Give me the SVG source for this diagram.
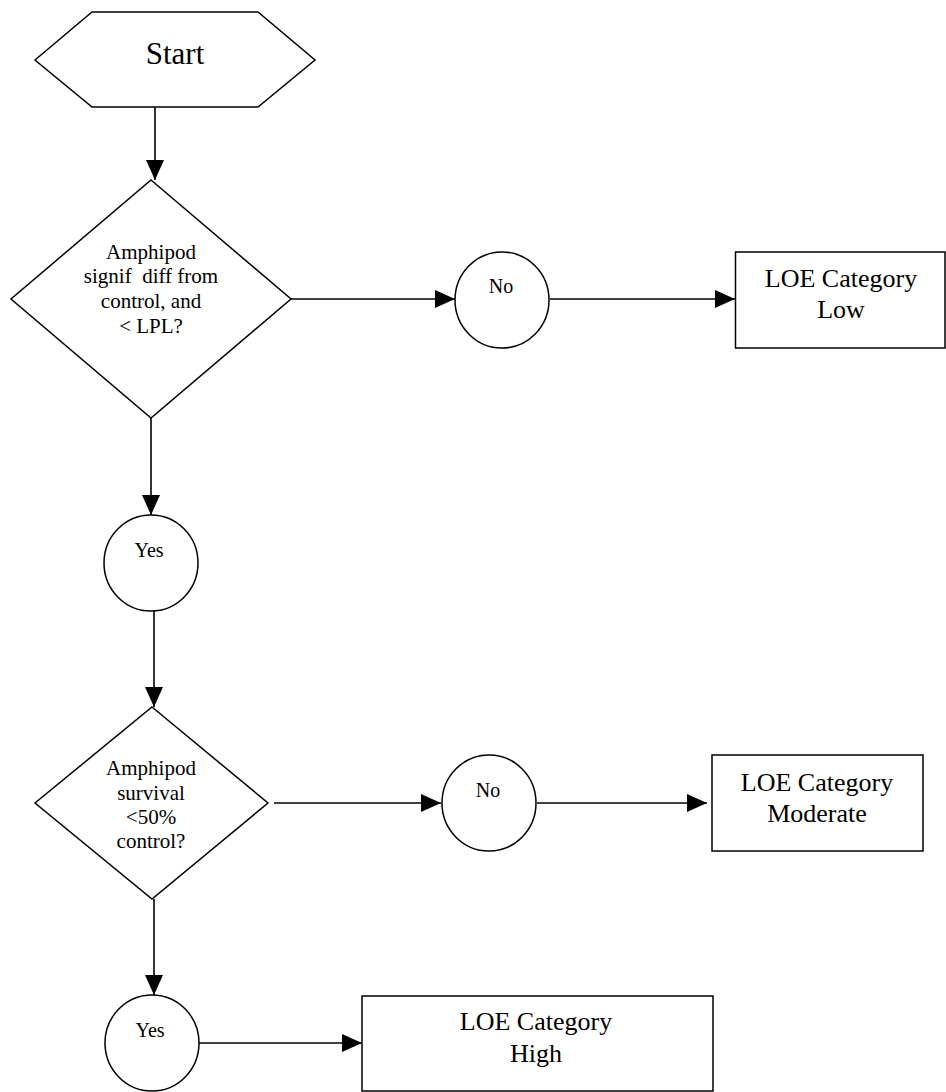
<svg xmlns="http://www.w3.org/2000/svg" width="946" height="1092" viewBox="0 0 946 1092">
<style>
.s{fill:#fff;stroke:#000;stroke-width:1.5}
.c{fill:none;stroke:#000;stroke-width:1.6}
text{font-family:"Liberation Serif","Times New Roman",serif;fill:#000;text-anchor:middle}
.d{font-size:21px}
.b{font-size:26px}
.o{font-size:20px}
</style>
<defs>
<marker id="ah" markerUnits="userSpaceOnUse" markerWidth="22" markerHeight="20" refX="20" refY="9" orient="auto">
<path d="M0,0 L20,9 L0,18 Z" fill="#000"/>
</marker>
</defs>
<rect width="946" height="1092" fill="#fff"/>
<g id="connectors">
<line class="c" x1="155" y1="107" x2="155" y2="180" marker-end="url(#ah)"/>
<line class="c" x1="291" y1="299" x2="455" y2="299" marker-end="url(#ah)"/>
<line class="c" x1="550" y1="299" x2="735" y2="299" marker-end="url(#ah)"/>
<line class="c" x1="151" y1="418" x2="151" y2="515" marker-end="url(#ah)"/>
<line class="c" x1="154" y1="611" x2="154" y2="707" marker-end="url(#ah)"/>
<line class="c" x1="274" y1="803" x2="441" y2="803" marker-end="url(#ah)"/>
<line class="c" x1="537" y1="803" x2="707" y2="803" marker-end="url(#ah)"/>
<line class="c" x1="154" y1="899" x2="154" y2="995" marker-end="url(#ah)"/>
<line class="c" x1="199" y1="1043" x2="362" y2="1043" marker-end="url(#ah)"/>
</g>
<g id="start">
<polygon class="s" points="35,60 92,12 258,12 315,60 258,107 92,107"/>
<text x="175" y="64" style="font-size:31px">Start</text>
</g>
<g id="decision1">
<polygon class="s" points="151,180 291,299 151,418 11,299"/>
<text class="d" x="151" y="259">Amphipod</text>
<text class="d" x="151" y="283" xml:space="preserve">signif  diff from</text>
<text class="d" x="151" y="308">control, and</text>
<text class="d" x="151" y="333">&lt; LPL?</text>
</g>
<g id="no1">
<ellipse class="s" cx="502" cy="300" rx="47" ry="48"/>
<text class="o" x="501" y="293">No</text>
</g>
<g id="low">
<rect class="s" x="735.5" y="252" width="209.5" height="96"/>
<text class="b" x="841" y="287">LOE Category</text>
<text class="b" x="841" y="318">Low</text>
</g>
<g id="yes1">
<ellipse class="s" cx="151" cy="563" rx="47" ry="48"/>
<text class="o" x="149" y="557">Yes</text>
</g>
<g id="decision2">
<polygon class="s" points="152,707 268,803 152,899 35,803"/>
<text class="d" x="151" y="775">Amphipod</text>
<text class="d" x="151" y="800">survival</text>
<text class="d" x="151" y="824">&lt;50%</text>
<text class="d" x="151" y="848">control?</text>
</g>
<g id="no2">
<ellipse class="s" cx="489" cy="803" rx="47" ry="48"/>
<text class="o" x="488" y="797">No</text>
</g>
<g id="moderate">
<rect class="s" x="712" y="755" width="211" height="96"/>
<text class="b" x="817" y="791">LOE Category</text>
<text class="b" x="817" y="822">Moderate</text>
</g>
<g id="yes2">
<ellipse class="s" cx="152" cy="1043" rx="47" ry="48"/>
<text class="o" x="150" y="1037">Yes</text>
</g>
<g id="high">
<rect class="s" x="362" y="996" width="351" height="95"/>
<text class="b" x="536" y="1030">LOE Category</text>
<text class="b" x="536" y="1062">High</text>
</g>
</svg>
